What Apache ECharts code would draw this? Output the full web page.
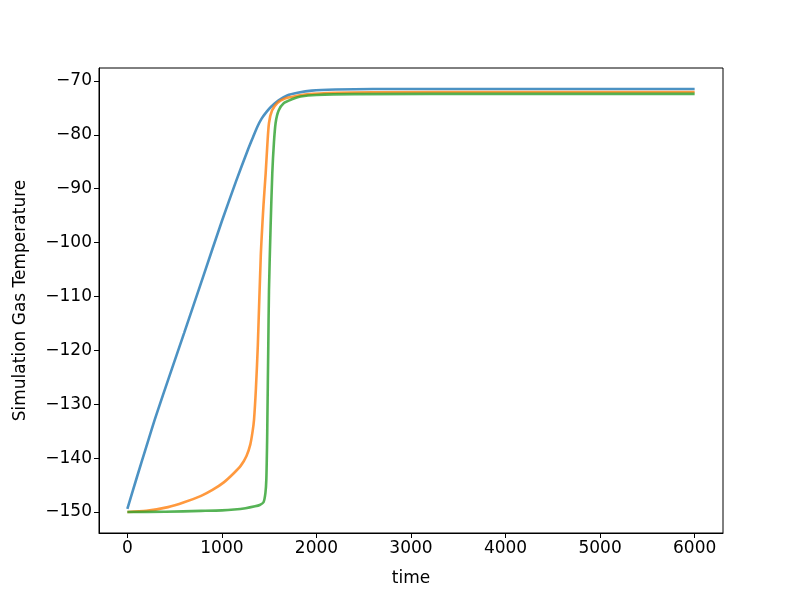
<!DOCTYPE html>
<html>
<head>
<meta charset="utf-8">
<script src="https://cdn.jsdelivr.net/npm/echarts@6/dist/echarts.min.js"></script>
<style>
  html, body { margin: 0; padding: 0; background: #fff; }
  #chart { width: 800px; height: 600px; }
</style>
</head>
<body>
<div id="chart"></div>
<script>
// values: [time, temperature]
var blueData = [
  [0, -149.4], [100, -143.6], [200, -137.9], [300, -132.3], [450, -124.5],
  [600, -116.8], [800, -106.4], [1000, -96.0], [1150, -88.6], [1270, -83.0],
  [1330, -80.4], [1375, -78.5], [1420, -77.0], [1470, -75.8], [1520, -74.8],
  [1600, -73.6], [1690, -72.7], [1800, -72.2], [1950, -71.8], [2200, -71.6],
  [2600, -71.5], [4000, -71.5], [6000, -71.5]
];
var orangeData = [
  [0, -150.0], [200, -149.8], [430, -149.1], [600, -148.2], [780, -147.0],
  [900, -145.9], [1020, -144.5], [1120, -142.9], [1200, -141.4], [1260, -139.6],
  [1300, -137.5], [1325, -135.0], [1340, -132.8], [1360, -127.0], [1380, -119.0],
  [1411, -102.5], [1440, -93.0], [1463, -87.1], [1480, -82.0], [1498, -77.8],
  [1530, -75.5], [1586, -74.1], [1660, -73.3], [1761, -72.9], [1900, -72.5],
  [2200, -72.2], [2600, -72.1], [4000, -72.05], [6000, -72.05]
];
var greenData = [
  [0, -150.0], [400, -149.95], [780, -149.8], [1000, -149.7], [1130, -149.55],
  [1250, -149.3], [1350, -148.95], [1400, -148.7], [1440, -148.2], [1460, -146.5],
  [1470, -143.9], [1478, -137.0], [1481, -132.8], [1490, -120.0], [1498, -108.7],
  [1515, -97.0], [1533, -87.1], [1550, -81.5], [1568, -77.8], [1600, -75.5],
  [1656, -74.1], [1740, -73.4], [1832, -72.9], [2000, -72.6], [2400, -72.45],
  [4000, -72.4], [6000, -72.4]
];
var seriesColors = ['rgba(31,119,180,0.8)', 'rgba(255,127,14,0.8)', 'rgba(44,160,44,0.8)'];

var font = 'DejaVu Sans';
function minus(v) { return String(v).replace('-', '\u2212'); }

function lineSeries(data, color) {
  return {
    type: 'line', data: data, showSymbol: false,
    smooth: 0.25,
    lineStyle: { color: color, width: 2.6 }
  };
}

var myChart = echarts.init(document.getElementById('chart'));
myChart.setOption({
  animation: false,
  backgroundColor: '#fff',
  grid: { left: 99, right: 77, top: 68, bottom: 67, containLabel: false },
  xAxis: {
    type: 'value',
    min: -300,
    max: 6300,
    splitNumber: 5,
    name: 'time',
    nameLocation: 'middle',
    nameGap: 37,
    nameTextStyle: { fontFamily: font, fontSize: 17, color: '#000' },
    axisLine: { onZero: false, lineStyle: { color: '#000', width: 1 } },
    axisTick: { show: true, inside: false, length: 5, lineStyle: { color: '#000' } },
    axisLabel: {
      showMinLabel: false, showMaxLabel: false,
      fontFamily: font, fontSize: 17, color: '#000', margin: 7,
      formatter: minus
    },
    splitLine: { show: false }
  },
  yAxis: {
    type: 'value',
    min: -153.9,
    max: -67.6,
    splitNumber: 8,
    name: 'Simulation Gas Temperature',
    nameLocation: 'middle',
    nameGap: 70,
    nameTextStyle: { fontFamily: font, fontSize: 17, color: '#000' },
    axisLine: { onZero: false, lineStyle: { color: '#000', width: 1 } },
    axisTick: { show: true, inside: false, length: 5, lineStyle: { color: '#000' } },
    axisLabel: {
      showMinLabel: false, showMaxLabel: false,
      fontFamily: font, fontSize: 17, color: '#000', margin: 7,
      formatter: minus
    },
    splitLine: { show: false }
  },
  series: [
    lineSeries(blueData, seriesColors[0]),
    lineSeries(orangeData, seriesColors[1]),
    lineSeries(greenData, seriesColors[2])
  ],
  // the top and right spines of the frame
  graphic: [{
    type: 'rect',
    shape: { x: 99, y: 68, width: 624, height: 465 },
    style: { fill: null, stroke: '#000', lineWidth: 1 },
    silent: true, z: 100
  }]
});
</script>
</body>
</html>
